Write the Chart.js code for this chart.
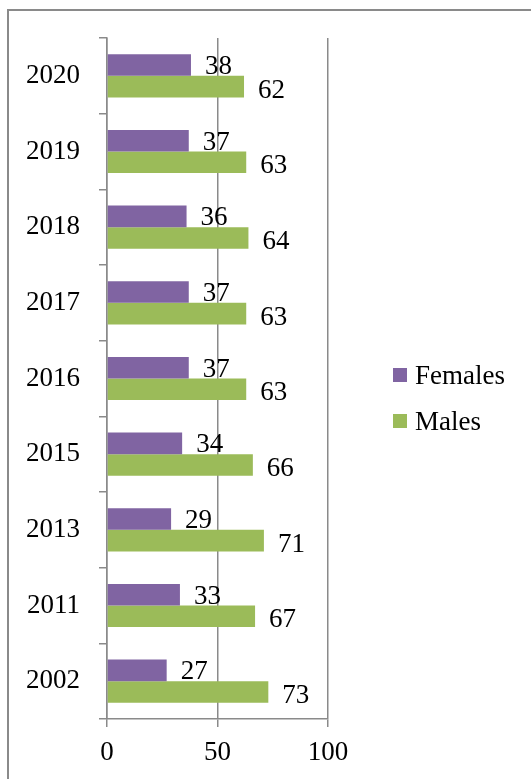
<!DOCTYPE html>
<html>
<head>
<meta charset="utf-8">
<script src="https://cdn.jsdelivr.net/npm/chart.js@4"></script>
<style>
    html, body { margin: 0; padding: 0; background: #fff; overflow: hidden; }
    #wrap { position: absolute; left: 0; top: 0; width: 531px; height: 779px; }
    #frame {
        position: absolute; left: 7px; top: 9px; width: 600px; height: 800px;
        border: 2px solid #8a8a8a; pointer-events: none;
    }
    #legend {
        position: absolute; left: 393px; top: 352px;
        font-family: "Liberation Serif", serif; font-size: 27px; color: #000;
    }
    #legend .item { height: 46px; display: flex; align-items: center; }
    #legend .box { width: 14px; height: 14px; margin-right: 8px; }
</style>
</head>
<body>
<div id="frame"></div>
<div id="wrap"><canvas id="genderChart" width="531" height="779"></canvas></div>
<div id="legend"></div>

<script>
const years = ['2020', '2019', '2018', '2017', '2016', '2015', '2013', '2011', '2002'];
const females = [38, 37, 36, 37, 37, 34, 29, 33, 27];
const males = [62, 63, 64, 63, 63, 66, 71, 67, 73];
const xTicks = [0, 50, 100];

const FONT = { family: '"Liberation Serif", serif', size: 27 };
const GRID = '#8a8a8a';

// value labels to the right of each bar
const valueLabels = {
    id: 'valueLabels',
    afterDatasetsDraw(chart) {
        const ctx = chart.ctx;
        ctx.save();
        ctx.font = `${FONT.size}px ${FONT.family}`;
        ctx.fillStyle = '#000';
        ctx.textAlign = 'left';
        ctx.textBaseline = 'middle';
        chart.data.datasets.forEach((ds, i) => {
            const shift = i === 0 ? 2 : 4;
            chart.getDatasetMeta(i).data.forEach((bar, j) => {
                ctx.fillText(ds.data[j], bar.x + 14, bar.y + shift);
            });
        });
        ctx.restore();
    }
};

const genderChart = new Chart(document.getElementById('genderChart'), {
    type: 'bar',
    data: {
        labels: years,
        datasets: [
            { label: 'Females', data: females, backgroundColor: '#8064A2' },
            { label: 'Males', data: males, backgroundColor: '#9BBB59' }
        ]
    },
    options: {
        indexAxis: 'y',
        responsive: false,
        animation: false,
        categoryPercentage: 0.57,
        barPercentage: 1.0,
        layout: { padding: { top: 38, left: 0, right: 203, bottom: 0 } },
        plugins: {
            legend: { display: false },
            tooltip: { enabled: false }
        },
        scales: {
            x: {
                min: 0,
                max: 100,
                afterBuildTicks: axis => { axis.ticks = xTicks.map(v => ({ value: v })); },
                afterFit: axis => { axis.height = 60; },
                grid: { color: GRID, lineWidth: 1.5, tickLength: 8 },
                border: { color: GRID, width: 1.5 },
                ticks: { color: '#000', font: FONT, padding: 10 }
            },
            y: {
                afterFit: axis => { axis.width = 107; },
                grid: { offset: true, drawOnChartArea: false, color: GRID, lineWidth: 1.5, tickLength: 8 },
                border: { color: GRID, width: 1.5 },
                ticks: { color: '#000', font: FONT, padding: 19 }
            }
        }
    },
    plugins: [valueLabels]
});

// legend built from the chart's datasets
const legendEl = document.getElementById('legend');
genderChart.data.datasets.forEach(ds => {
    const row = document.createElement('div');
    row.className = 'item';
    const box = document.createElement('span');
    box.className = 'box';
    box.style.background = ds.backgroundColor;
    const text = document.createElement('span');
    text.textContent = ds.label;
    row.appendChild(box);
    row.appendChild(text);
    legendEl.appendChild(row);
});
</script>
</body>
</html>
